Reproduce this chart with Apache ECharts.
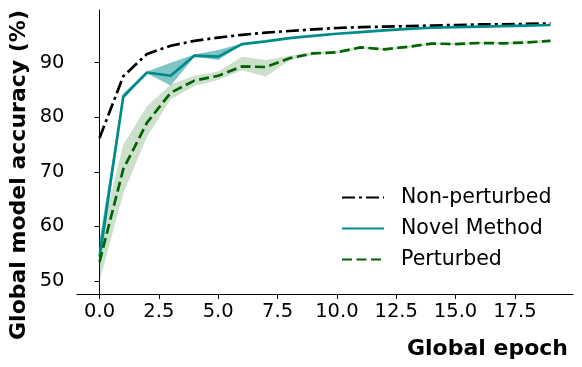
<!DOCTYPE html>
<html><head><meta charset="utf-8">
<script src="https://cdn.jsdelivr.net/npm/echarts@6/dist/echarts.min.js"></script>
<style>html,body{margin:0;padding:0;background:#fff}#c{width:582px;height:367px}</style>
</head><body><div id="c"></div>
<script>
const epochs = [0,1,2,3,4,5,6,7,8,9,10,11,12,13,14,15,16,17,18,19];
const nonPerturbed = [76.2,87.5,91.6,93.1,94.0,94.6,95.1,95.5,95.8,96.1,96.35,96.5,96.6,96.7,96.8,96.9,97.0,97.0,97.1,97.2];
const novel = [54.5,83.8,88.2,87.6,91.3,91.1,93.4,93.9,94.5,94.9,95.3,95.6,95.9,96.2,96.4,96.5,96.6,96.7,96.8,96.9];
const novelLo = [52.0,83.3,88.0,85.8,91.1,90.5,93.3,93.8,94.4,94.8,95.2,95.5,95.8,96.1,96.3,96.4,96.5,96.6,96.7,96.8];
const novelHi = [57.5,84.3,88.4,90.0,91.5,92.3,93.5,94.0,94.6,95.0,95.4,95.7,96.0,96.3,96.5,96.6,96.7,96.8,96.9,97.0];
const perturbed = [53.5,70.5,79.0,84.5,86.7,87.6,89.3,89.2,90.8,91.7,91.9,92.8,92.45,92.9,93.5,93.4,93.6,93.55,93.7,94.0];
const perturbedLo = [50.0,66.0,76.4,83.3,85.7,86.8,88.6,87.4,90.4,91.4,91.7,92.6,92.25,92.7,93.3,93.2,93.4,93.35,93.5,93.8];
const perturbedHi = [57.5,75.0,82.0,86.0,87.6,88.4,91.1,90.5,91.2,92.0,92.1,93.0,92.65,93.1,93.7,93.6,93.8,93.75,93.9,94.2];
const xTicks = [0,2.5,5,7.5,10,12.5,15,17.5];
const yTicks = [50,60,70,80,90];
const seriesNames = ['Non-perturbed','Novel Method','Perturbed'];

const FONT = 'DejaVu Sans';
const pairs = (arr) => epochs.map((e,i)=>[e,arr[i]]);

function bandSeries(lo, hi, color){
  return {
    type:'custom', silent:true, z:1, clip:true,
    data: epochs.map((e,i)=>[e, lo[i], hi[i]]),
    encode:{x:0, y:[1,2]},
    renderItem:function(params, api){
      if (params.dataIndex !== 0) return null;
      const pts = [];
      for (let i=0;i<epochs.length;i++) pts.push(api.coord([epochs[i], hi[i]]));
      for (let i=epochs.length-1;i>=0;i--) pts.push(api.coord([epochs[i], lo[i]]));
      return {type:'polygon', shape:{points:pts}, style:{fill:color, stroke:null}};
    }
  };
}

const chart = echarts.init(document.getElementById('c'), null, {renderer:'canvas'});
chart.setOption({
  animation:false,
  grid:{left:77, top:10, right:9, bottom:73, containLabel:false},
  xAxis:{type:'value', min:-0.95, max:19.95,
    axisLine:{show:true, lineStyle:{color:'#000', width:1}},
    axisTick:{show:true, length:5, customValues:xTicks, lineStyle:{color:'#000'}},
    axisLabel:{customValues:xTicks, margin:8, color:'#000', fontFamily:FONT, fontSize:19.5,
      formatter:(v)=>v.toFixed(1)},
    splitLine:{show:false}},
  yAxis:{type:'value', min:47.6, max:99.65,
    axisLine:{show:true, lineStyle:{color:'#000', width:1}},
    axisTick:{show:true, length:5, customValues:yTicks, lineStyle:{color:'#000'}},
    axisLabel:{customValues:yTicks, margin:12.5, color:'#000', fontFamily:FONT, fontSize:19.5},
    splitLine:{show:false}},
  legend:{orient:'vertical', left:341, top:187, padding:0, itemWidth:42, itemHeight:14, itemGap:10,
    data:seriesNames, itemStyle:{opacity:0},
    textStyle:{fontFamily:FONT, fontSize:20.5, color:'#000', lineHeight:20.5, padding:[0,0,0,12]}},
  graphic:[
    {type:'text', x:19, y:175, rotation:Math.PI/2,
      style:{text:'Global model accuracy (%)', font:'bold 22px "DejaVu Sans"', fill:'#000', textAlign:'center', textVerticalAlign:'middle'}},
    {type:'text', x:568, y:349,
      style:{text:'Global epoch', font:'bold 22px "DejaVu Sans"', fill:'#000', textAlign:'right', textVerticalAlign:'middle'}}
  ],
  series:[
    bandSeries(perturbedLo, perturbedHi, 'rgba(0,100,0,0.2)'),
    bandSeries(novelLo, novelHi, 'rgba(0,139,139,0.5)'),
    {name:'Non-perturbed', type:'line', data:pairs(nonPerturbed), symbol:'none', z:3,
      color:'#000', lineStyle:{color:'#000', width:2.7, type:[13,4,3,4]}},
    {name:'Novel Method', type:'line', data:pairs(novel), symbol:'none', z:3,
      color:'#008b8b', lineStyle:{color:'#008b8b', width:2.7, type:'solid'}},
    {name:'Perturbed', type:'line', data:pairs(perturbed), symbol:'none', z:3,
      color:'#006400', lineStyle:{color:'#006400', width:2.7, type:[10,4.5]}}
  ]
});
</script></body></html>
